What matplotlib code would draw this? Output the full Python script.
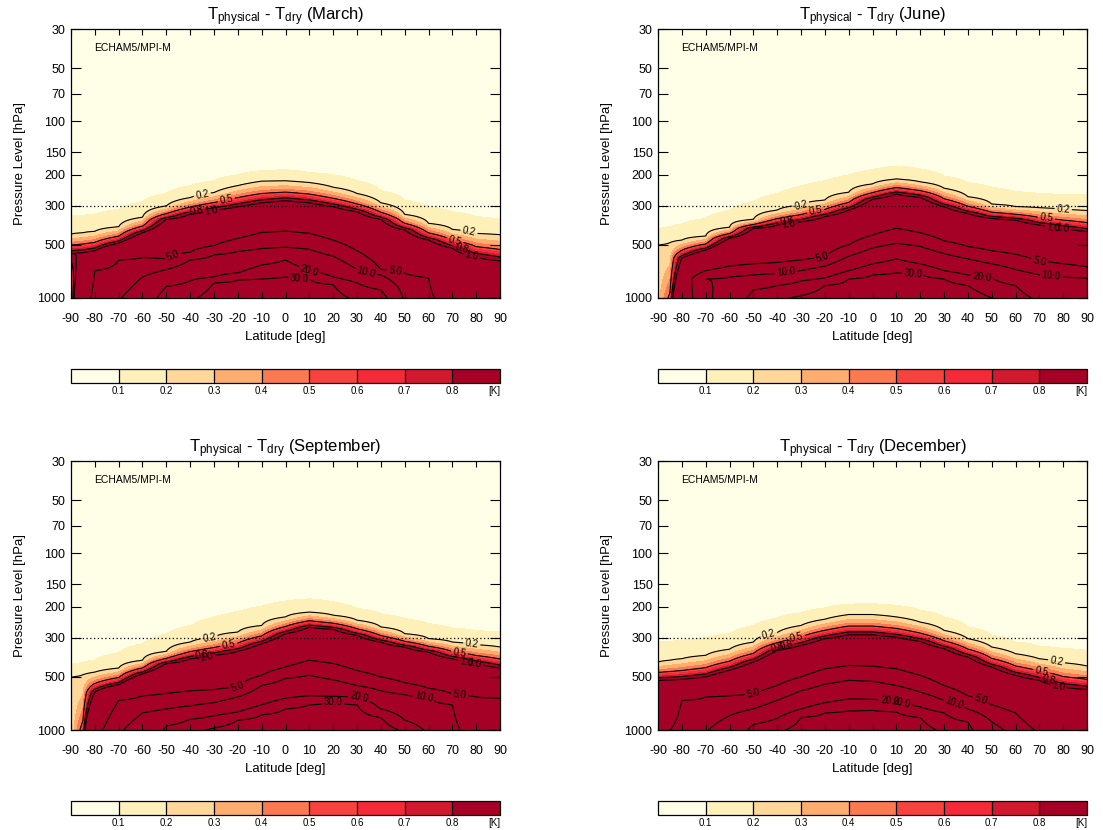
import numpy as np
import matplotlib.pyplot as plt
from matplotlib.colors import ListedColormap, BoundaryNorm
from matplotlib.cm import ScalarMappable

plt.rcParams['font.family'] = ['Liberation Sans', 'DejaVu Sans']
plt.rcParams['mathtext.fontset'] = 'custom'
plt.rcParams['mathtext.rm'] = 'Liberation Sans'
plt.rcParams['mathtext.it'] = 'Liberation Sans'
plt.rcParams['axes.unicode_minus'] = False

nan = np.nan

# latitude columns of the zonal means
lats = [-90, -85, -80, -70, -60, -50, -40, -30, -20, -10, 0, 10, 20, 30, 40, 50, 60, 70, 80, 90]

# pressure [hPa] at which each isoline is reached, one row per level
iso_levels = [0.1, 0.2, 1.0, 5.0, 10.0, 20.0, 30.0]

iso_mar = [
    [343, 340, 336, 315, 285, 256, 232, 217, 201, 190, 188, 195, 201, 217, 247, 279, 304, 325, 346, 359],
    [434, 427, 419, 395, 349, 301, 270, 253, 231, 218, 217, 222, 236, 256, 289, 336, 378, 409, 431, 438],
    [559, 553, 540, 490, 427, 359, 335, 318, 304, 289, 281, 289, 304, 325, 359, 412, 470, 523, 583, 615],
    [nan, nan, 700, 610, 590, 600, 550, 505, 460, 425, 418, 430, 470, 540, 690, 725, 770, nan, nan, nan],
    [nan, nan, nan, nan, 760, 690, 610, 570, 545, 525, 516, 530, 580, 690, 740, nan, nan, nan, nan, nan],
    [nan, nan, nan, nan, nan, 860, 800, 760, 720, 650, 610, 700, 760, 820, 900, nan, nan, nan, nan, nan],
    [nan, nan, nan, nan, nan, nan, nan, 820, 790, 780, 760, 780, 840, nan, nan, nan, nan, nan, nan, nan],
]
sfc_mar = [0.3, 3, 6, 9.5, 14, 24, 28, 35, 38, 40, 40, 38, 34, 28, 24, 9, 5.5, 3.5, 2.5, 2]

iso_jun = [
    [407, 395, 381, 354, 318, 285, 256, 232, 217, 201, 188, 179, 186, 204, 222, 236, 250, 256, 260, 261],
    [501, 486, 470, 446, 398, 359, 318, 298, 279, 252, 226, 212, 220, 239, 267, 294, 304, 308, 315, 320],
    [nan, nan, 594, 535, 459, 403, 386, 370, 346, 318, 276, 258, 269, 304, 332, 354, 362, 386, 403, 421],
    [nan, nan, nan, 700, 660, 640, 630, 610, 590, 500, 440, 403, 427, 474, 511, 540, 565, 617, 640, 666],
    [nan, nan, nan, 780, 760, 740, 726, 700, 660, 580, 520, 490, 510, 560, 600, 640, 690, 740, 760, 770],
    [nan, nan, nan, nan, nan, 900, 850, 800, 770, 700, 640, 600, 640, 700, 740, 770, 850, nan, nan, nan],
    [nan, nan, nan, nan, nan, nan, nan, nan, 850, 780, 740, 720, 726, 780, 850, nan, nan, nan, nan, nan],
]
sfc_jun = [0.25, 0.55, 2.5, 8, 15, 22, 28, 32, 35, 38, 40, 42, 42, 40, 36, 30, 24, 18, 15, 14]

iso_sep = [
    [427, 416, 403, 365, 325, 285, 256, 229, 213, 199, 186, 181, 188, 205, 220, 234, 250, 265, 274, 279],
    [501, 486, 470, 446, 403, 359, 318, 298, 279, 256, 229, 215, 224, 239, 261, 285, 304, 318, 329, 339],
    [nan, nan, 610, 554, 480, 421, 395, 378, 359, 325, 285, 262, 269, 291, 318, 339, 362, 395, 421, 446],
    [nan, nan, nan, 680, 640, 620, 600, 590, 571, 490, 440, 403, 420, 460, 500, 540, 580, 625, 650, 660],
    [nan, nan, nan, nan, 800, 760, 730, 700, 650, 560, 510, 490, 520, 560, 600, 630, 655, 720, nan, nan],
    [nan, nan, nan, nan, nan, 950, 870, 830, 790, 720, 660, 640, 645, 650, 760, 880, nan, nan, nan, nan],
    [nan, nan, nan, nan, nan, nan, nan, nan, 880, 820, 760, 720, 690, 720, 850, nan, nan, nan, nan, nan],
]
sfc_sep = [0.2, 0.6, 3, 9, 14, 21, 26, 32, 35, 38, 40, 42, 42, 40, 36, 28, 18, 11, 8, 7]

iso_dec = [
    [318, 315, 311, 301, 285, 256, 232, 217, 204, 194, 193, 197, 210, 229, 261, 291, 318, 336, 346, 354],
    [412, 403, 395, 378, 349, 318, 281, 256, 236, 222, 222, 229, 245, 273, 304, 339, 370, 395, 416, 434],
    [523, 521, 517, 501, 459, 412, 354, 332, 304, 289, 289, 298, 315, 346, 386, 440, 490, 523, 571, 589],
    [nan, nan, 680, 650, 640, 623, 560, 500, 450, 431, 435, 450, 490, 560, 640, 720, 800, nan, nan, nan],
    [nan, nan, nan, nan, 830, 760, 680, 600, 550, 523, 530, 560, 610, 680, 760, 900, nan, nan, nan, nan],
    [nan, nan, nan, nan, nan, 930, 860, 760, 700, 666, 670, 690, 740, 800, 900, nan, nan, nan, nan, nan],
    [nan, nan, nan, nan, nan, nan, nan, 850, 800, 780, 775, 790, 850, nan, nan, nan, nan, nan, nan, nan],
]
sfc_dec = [3, 5, 7, 9.5, 14, 22, 28, 34, 38, 40, 40, 38, 34, 28, 22, 13, 7, 4.5, 3.5, 3]

months = ['March', 'June', 'September', 'December']
isos = [iso_mar, iso_jun, iso_sep, iso_dec]
sfcs = [sfc_mar, sfc_jun, sfc_sep, sfc_dec]

# where the inline contour labels sit (lat, hPa)
lab_mar = [(-35, 256), (77, 422), (-25, 272), (71, 479), (-37, 325), (74, 527), (-31, 330), (78, 600),
           (-47, 597), (46, 711), (34, 711), (10, 710), (6, 743)]
lab_jun = [(-30, 300), (80, 318), (-24, 318), (73, 345), (-36, 372), (76, 395), (-35, 385), (78, 410),
           (-21, 597), (70, 617), (-36, 726), (75, 757), (46, 757), (17, 726)]
lab_sep = [(-32, 300), (78, 335), (-24, 318), (73, 365), (-35, 378), (76, 405), (-33, 390), (79, 430),
           (-20, 571), (73, 638), (58, 652), (31, 650), (20, 695)]
lab_dec = [(-44, 270), (77, 425), (-32, 290), (71, 470), (-40, 335), (74, 515), (-36, 340), (78, 560),
           (-50, 623), (45, 694), (34, 726), (12, 694), (8, 726)]
labels = [lab_mar, lab_jun, lab_sep, lab_dec]

fill_levels = [0, 0.1, 0.2, 0.3, 0.4, 0.5, 0.6, 0.7, 0.8, 1000]
fill_colors = ['#fffee6', '#fef0b9', '#fed898', '#fdae6f', '#fc7a52', '#f8423d',
               '#f42a38', '#d3192f', '#a50026']
line_levels = [0.2, 0.5, 0.8, 1.0, 5.0, 10.0, 20.0, 30.0]
ytk = [30, 50, 70, 100, 150, 200, 300, 500, 1000]

plev = np.logspace(np.log10(30), 3, 400)


def build_field(iso, sfc):
    cols = []
    for j in range(len(lats)):
        kp, kv = [30.0], [1e-3]
        for lev, row in zip(iso_levels, iso):
            if not np.isnan(row[j]):
                kp.append(row[j])
                kv.append(lev)
        kp.append(1000.0)
        kv.append(sfc[j])
        cols.append(np.exp(np.interp(np.log(plev), np.log(kp), np.log(kv))))
    return np.array(cols).T


fig = plt.figure(figsize=(11.03, 8.30), dpi=100)
W, H = 1103.0, 830.0
boxes = [(71, 29), (658, 29), (71, 461), (658, 461)]

for k in range(4):
    x0, y0 = boxes[k]
    ax = fig.add_axes([x0 / W, 1 - (y0 + 269) / H, 429 / W, 269 / H])
    ax.set_yscale('log')
    ax.set_xlim(-90, 90)
    ax.set_ylim(1000, 30)

    z = build_field(isos[k], sfcs[k])
    ax.contourf(lats, plev, z, levels=fill_levels, colors=fill_colors)
    cs = ax.contour(lats, plev, z, levels=line_levels, colors='k', linewidths=0.8)
    ax.clabel(cs, fmt='%.1f', fontsize=7, manual=labels[k], inline_spacing=2)
    ax.axhline(300, color='k', lw=0.9, ls=(0, (1, 2)))

    ax.set_xticks(range(-90, 91, 10))
    ax.set_yticks(ytk)
    ax.set_yticklabels([str(t) for t in ytk])
    ax.minorticks_off()
    ax.tick_params(axis='x', direction='in', top=True, length=4, pad=11, labelsize=9)
    ax.tick_params(axis='y', direction='in', right=True, length=7, pad=4, labelsize=9)
    for s in ax.spines.values():
        s.set_linewidth(0.9)

    ax.set_xlabel('Latitude [deg]', fontsize=9.5, labelpad=4)
    ax.set_ylabel('Pressure Level [hPa]', fontsize=9.5, labelpad=8)
    ax.set_title(r'T$_{\mathregular{physical}}$ - T$_{\mathregular{dry}}$ (%s)' % months[k],
                 fontsize=12, pad=6)
    ax.text(0.054, 0.931, 'ECHAM5/MPI-M', transform=ax.transAxes, fontsize=7.5, va='center')

    # colour key under each panel
    cax = fig.add_axes([x0 / W, 1 - (y0 + 354) / H, 429 / W, 14 / H])
    bnd = [0, 0.1, 0.2, 0.3, 0.4, 0.5, 0.6, 0.7, 0.8, 0.9]
    sm = ScalarMappable(norm=BoundaryNorm(bnd, 9), cmap=ListedColormap(fill_colors))
    cb = fig.colorbar(sm, cax=cax, orientation='horizontal', boundaries=bnd,
                      ticks=bnd[1:-1], drawedges=True)
    cb.ax.set_xticklabels(['%.1f' % b for b in bnd[1:-1]])
    cb.ax.minorticks_off()
    cb.ax.tick_params(which='both', length=0, labelsize=7, pad=2)
    cb.outline.set_linewidth(0.9)
    cb.dividers.set_linewidth(0.9)
    cb.ax.text(1.0, -0.2, '[K]', transform=cb.ax.transAxes, fontsize=7, ha='right', va='top')

fig.savefig('out.png', dpi=100)
